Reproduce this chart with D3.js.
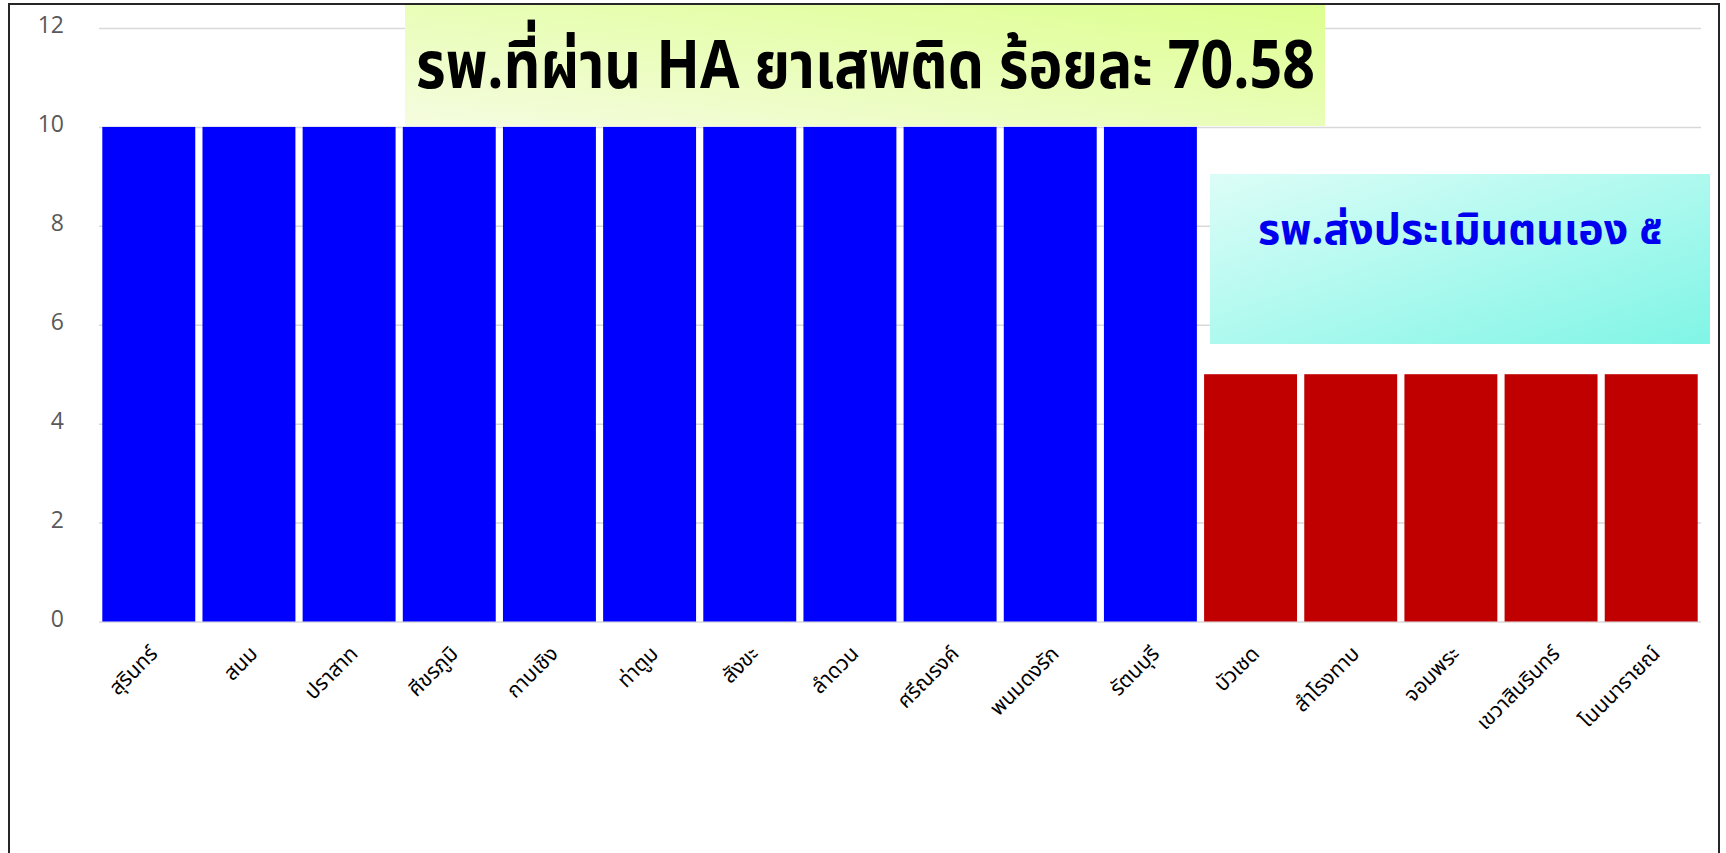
<!DOCTYPE html>
<html>
<head>
<meta charset="utf-8">
<script src="https://cdn.jsdelivr.net/npm/d3@7"></script>
<style>
    html, body { margin: 0; padding: 0; background: #fff; overflow: hidden; }
    .grid line { stroke: #d9d9d9; stroke-width: 1.5; }
    .grid path { display: none; }
    .y-axis text { fill: #595959; font-family: "Open Sans", sans-serif; font-size: 23px; }
    .x-label { font-family: "Noto Sans Thai", "Tahoma", "DejaVu Sans", sans-serif; font-size: 21px; fill: #000; }
</style>
</head>
<body>
<div id="chart"></div>
<script>
// Data
const hospitals = ['สุรินทร์', 'สนม', 'ปราสาท', 'ศีขรภูมิ', 'กาบเชิง', 'ท่าตูม', 'สังขะ', 'ลำดวน',
    'ศรีณรงค์', 'พนมดงรัก', 'รัตนบุรี', 'บัวเชด', 'สำโรงทาบ', 'จอมพระ', 'เขวาสินรินทร์', 'โนนนารายณ์'];
const scores = [10, 10, 10, 10, 10, 10, 10, 10, 10, 10, 10, 5, 5, 5, 5, 5];
const passed = [true, true, true, true, true, true, true, true, true, true, true, false, false, false, false, false];
const yTicks = [0, 2, 4, 6, 8, 10, 12];
const titleText = 'รพ.ที่ผ่าน HA ยาเสพติด ร้อยละ 70.58';
const noteText = 'รพ.ส่งประเมินตนเอง ๕';

const width = 1726;
const height = 853;

const svg = d3.select('#chart')
    .append('svg')
    .attr('width', width)
    .attr('height', height);

const defs = svg.append('defs');

// Gradients for the two text boxes
const titleGrad = defs.append('linearGradient')
    .attr('id', 'titleGrad')
    .attr('x1', '0%').attr('y1', '100%')
    .attr('x2', '100%').attr('y2', '0%');
titleGrad.append('stop').attr('offset', '0%').attr('stop-color', '#f5fce0');
titleGrad.append('stop').attr('offset', '100%').attr('stop-color', '#ddff8f');

const noteGrad = defs.append('linearGradient')
    .attr('id', 'noteGrad')
    .attr('x1', '0%').attr('y1', '0%')
    .attr('x2', '100%').attr('y2', '100%');
noteGrad.append('stop').attr('offset', '0%').attr('stop-color', '#dcfdf7');
noteGrad.append('stop').attr('offset', '100%').attr('stop-color', '#80f5e6');

// Scales
const x = d3.scaleBand()
    .domain(hospitals)
    .range([99, 1701])
    .paddingInner(0.072)
    .paddingOuter(0.033);

const y = d3.scaleLinear()
    .domain([0, 12])
    .range([621.5, 28]);

// Gridlines
svg.append('g')
    .attr('class', 'grid')
    .attr('transform', 'translate(99,0)')
    .call(d3.axisLeft(y).tickValues(yTicks).tickSize(-1602).tickFormat(''));

// Y axis labels
const yAxis = svg.append('g')
    .attr('class', 'y-axis')
    .attr('transform', 'translate(64,0)')
    .call(d3.axisLeft(y).tickValues(yTicks).tickSize(0).tickPadding(0));
yAxis.select('.domain').remove();
yAxis.selectAll('text').attr('dy', '0.2em');

// Bars
svg.append('g')
    .selectAll('rect')
    .data(hospitals)
    .enter()
    .append('rect')
    .attr('x', d => x(d))
    .attr('width', x.bandwidth())
    .attr('y', (d, i) => y(scores[i]))
    .attr('height', (d, i) => y(0) - y(scores[i]))
    .attr('fill', (d, i) => passed[i] ? '#0000ff' : '#c00000');

// X labels, rotated
svg.append('g')
    .selectAll('text')
    .data(hospitals)
    .enter()
    .append('text')
    .attr('class', 'x-label')
    .attr('text-anchor', 'end')
    .attr('transform', d => `translate(${x(d) + x.bandwidth() / 2 + 10},${655}) rotate(-45)`)
    .text(d => d);

// Title box
svg.append('rect')
    .attr('x', 405).attr('y', 5)
    .attr('width', 920).attr('height', 121)
    .attr('fill', 'url(#titleGrad)');

// condensed look: bigger font squeezed into the same width
svg.append('text')
    .attr('x', 416).attr('y', 88)
    .attr('font-family', '"Noto Sans Thai", "Tahoma", "DejaVu Sans", sans-serif')
    .attr('font-weight', 'bold')
    .attr('font-size', 66)
    .attr('textLength', 899)
    .attr('lengthAdjust', 'spacingAndGlyphs')
    .attr('fill', '#000')
    .text(titleText);

// Note box
svg.append('rect')
    .attr('x', 1210).attr('y', 174)
    .attr('width', 500).attr('height', 170)
    .attr('fill', 'url(#noteGrad)');

svg.append('text')
    .attr('x', 1258).attr('y', 244)
    .attr('font-family', '"Noto Sans Thai", "Tahoma", "DejaVu Sans", sans-serif')
    .attr('font-weight', 'bold')
    .attr('font-size', 42)
    .attr('textLength', 405)
    .attr('lengthAdjust', 'spacingAndGlyphs')
    .attr('fill', '#0000ee')
    .text(noteText);

// Outer frame
svg.append('rect')
    .attr('x', 9).attr('y', 4)
    .attr('width', 1710).attr('height', 880)
    .attr('fill', 'none')
    .attr('stroke', '#262626')
    .attr('stroke-width', 2);
</script>
</body>
</html>
